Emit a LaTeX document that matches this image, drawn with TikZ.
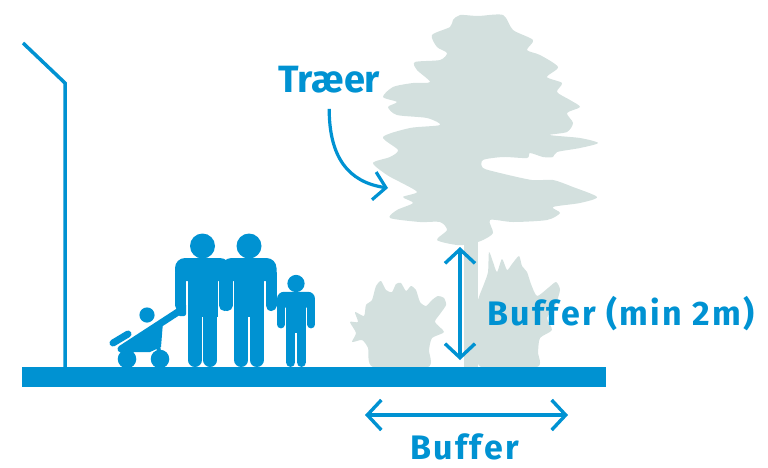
\documentclass[tikz,border=0pt]{standalone}
\usepackage{fontspec}
\setmainfont{Fira Sans}
\newfontfamily\spacedfont[LetterSpace=7]{Fira Sans}
\usetikzlibrary{arrows.meta}

\definecolor{skyblue}{RGB}{0,146,210}
\definecolor{foliage}{RGB}{211,224,222}

\tikzset{
  wallline/.style={draw=skyblue, line width=3.5pt, line join=miter},
  dimarrow/.style={draw=skyblue, line width=3.4pt,
    {Straight Barb[length=14pt,width=30pt]}-{Straight Barb[length=14pt,width=30pt]}},
  pointer/.style={draw=skyblue, line width=3.2pt,
    -{Straight Barb[length=12pt,width=28pt]}},
  bluetext/.style={text=skyblue, inner sep=0pt, anchor=base west,
    font=\spacedfont\bfseries\fontsize{34}{34}\selectfont},
  plant/.style={fill=foliage},
}

% a standing figure; #1,#2 = foot position, #3 = size factor
\newcommand{\personfig}[3]{%
  \begin{scope}[shift={(#1,#2)}, scale=#3, fill=skyblue, draw=skyblue]
    \pgfmathsetmacro\armw{11*#3}
    \pgfmathsetmacro\legw{13.8*#3}
    \pgfmathsetmacro\shr{10*#3}
    \fill (0,-121) circle (12.5);
    \fill[rounded corners=\shr pt] (-27.5,-86) rectangle (27.5,-109);
    \draw[line width=\armw pt, line cap=round] (-22,-94) -- (-22,-61.5);
    \draw[line width=\armw pt, line cap=round] (22,-94) -- (22,-61.5);
    \fill (-15,-109) rectangle (15,-50);
    \draw[line width=\legw pt, line cap=round] (-7.7,-55) -- (-7.7,-6.9);
    \draw[line width=\legw pt, line cap=round] (7.7,-55) -- (7.7,-6.9);
  \end{scope}}

\begin{document}
\begin{tikzpicture}[x=1pt, y=-1pt]
  \useasboundingbox (0,0) rectangle (768,467);

  % ---- tree crown and trunk ----
  \fill[plant] (464,160) rectangle (478,367);
  \fill[plant] plot[smooth cycle, tension=0.45] coordinates {
    (453,20) (460,15) (478,16) (503,15) (513,30) (533,40) (527,50) (540,55)
    (558,67) (547,77) (562,83) (557,92) (570,100) (580,107) (567,113)
    (573,123) (567,132) (550,135) (580,138) (598,143) (580,148) (557,152)
    (553,157) (543,157) (530,153) (527,158) (503,157) (483,160) (483,168)
    (500,173) (532,180) (553,180) (573,187) (597,197) (580,203) (553,207)
    (560,213) (547,220) (513,222) (490,220) (493,233) (483,240) (471,244)
    (457,245) (437,240) (447,230) (440,222) (420,222) (390,218) (397,210)
    (413,203) (403,197) (417,192) (400,182) (387,175) (373,163) (390,157)
    (398,150) (383,137) (410,128) (440,125) (427,118) (397,115) (388,107)
    (397,102) (383,97) (393,87) (413,83) (430,82) (417,70) (415,62)
    (440,60) (447,53) (437,47) (432,35) (450,27)};

  % ---- shrubs ----
  \fill[plant] plot[smooth cycle, tension=0.4] coordinates {
    (373,367) (368,348) (362,340) (352,342) (356,333) (350,322) (358,322)
    (355,312) (364,316) (366,305) (372,300) (376,286) (381,281) (386,290)
    (392,292) (396,284) (401,283) (406,291) (411,286) (416,290) (420,302)
    (426,306) (432,300) (438,296) (444,298) (446,305) (440,314) (435,322)
    (444,332) (432,338) (429,350) (428,367)};
  \fill[plant] plot[smooth cycle, tension=0.4] coordinates {
    (481,367) (478,345) (476,320) (478,300) (484,284) (488,272) (489,252)
    (493,262) (497,272) (502,259) (507,270) (512,264) (519,256) (522,266)
    (527,272) (531,284) (537,296) (548,288) (556,282) (560,290) (555,306)
    (547,318) (552,330) (540,338) (538,352) (537,367)};

  % ---- ground and wall ----
  \fill[skyblue] (22,367) rectangle (606,387);
  \draw[wallline] (23,43) -- (65,83) -- (65,367);

  % ---- people ----
  \personfig{296}{367}{0.69}
  \personfig{202.5}{367}{1}
  \personfig{249}{367}{1}

  % ---- stroller ----
  \begin{scope}[fill=skyblue, draw=skyblue, line cap=round]
    \fill (127,359) circle (9.3);
    \fill (160,359) circle (9.3);
    \fill (147,315) circle (7.6);
    \draw[line width=7pt] (121,349) -- (181,310);
    \draw[line width=7pt] (113,343) -- (128,334);
    \fill (124,349) -- (163,322) -- (161,347) -- (150,352) -- (130,352) -- cycle;
    \draw[line width=4pt] (133,349) -- (127,358);
    \draw[line width=4pt] (158,345) -- (160,358);
    \fill[rounded corners=2pt] (178,303) rectangle (186,316);
  \end{scope}

  % ---- labels and dimension arrows ----
  \node[bluetext, font=\rmfamily\bfseries\fontsize{38}{38}\selectfont] (traer) at (278,92) {Træer};
  \coordinate (crownedge) at (388,188);
  \draw[pointer] ([yshift=-16pt]traer.south) .. controls +(0,48) and +(-40,-6) .. (crownedge);

  \coordinate (vtop) at (460,247);
  \coordinate (vbot) at (460,360);
  \draw[dimarrow] (vtop) -- (vbot);
  \node[bluetext] (buffervert) at (487,325) {Buffer (min 2m)};

  \coordinate (hleft) at (365,415);
  \coordinate (hright) at (568,415);
  \draw[dimarrow] (hleft) -- (hright);
  \node[bluetext] (bufferhor) at (410,459) {Buffer};
\end{tikzpicture}
\end{document}
